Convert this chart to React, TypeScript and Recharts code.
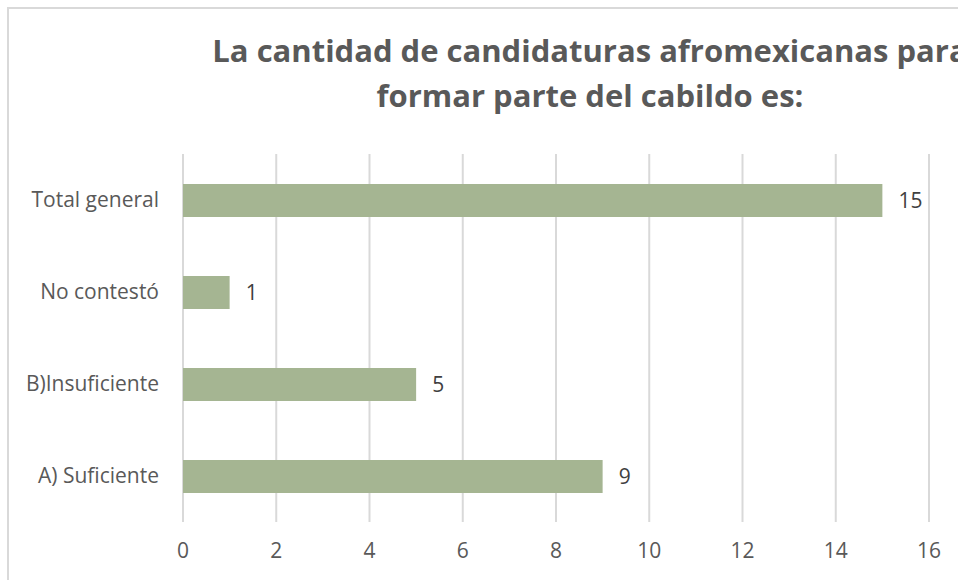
import React from "react";
import { BarChart, Bar, XAxis, YAxis, CartesianGrid, LabelList } from "recharts";

const categories = ["Total general", "No contestó", "B)Insuficiente", "A) Suficiente"];
const values = [15, 1, 5, 9];
const xTicks = [0, 2, 4, 6, 8, 10, 12, 14, 16];
const titleLines = ["La cantidad de candidaturas afromexicanas para", "formar parte del cabildo es:"];

const data = categories.map((c, i) => ({ name: c, value: values[i] }));

const FONT = "'Open Sans', Lato, sans-serif";
const TEXT = "#595959";

export default function App() {
  return (
    <div
      style={{
        position: "absolute",
        left: 7,
        top: 7,
        width: 951,
        height: 573,
        overflow: "hidden",
        borderTop: "2px solid #d9d9d9",
        borderLeft: "2px solid #d9d9d9",
        boxSizing: "border-box",
        background: "#fff",
        fontFamily: FONT,
      }}
    >
      <div
        style={{
          position: "absolute",
          left: 0,
          width: 1162,
          top: 19,
          textAlign: "center",
          fontFamily: FONT,
          fontWeight: 700,
          fontSize: 31,
          lineHeight: "45px",
          color: TEXT,
          whiteSpace: "nowrap",
        }}
      >
        {titleLines.map((l) => (
          <div key={l}>{l}</div>
        ))}
      </div>
      <div style={{ position: "absolute", left: 0, top: 0 }}>
        <BarChart
          width={948}
          height={570}
          data={data}
          layout="vertical"
          margin={{ top: 145, right: 28, bottom: 0, left: 0 }}
          barSize={33}
        >
          <CartesianGrid horizontal={false} vertical={true} stroke="#d9d9d9" strokeWidth={2} />
          <XAxis
            type="number"
            domain={[0, 16]}
            ticks={xTicks}
            axisLine={false}
            tickLine={false}
            tickMargin={15}
            height={57}
            tick={{ fill: TEXT, fontSize: 21, fontFamily: FONT }}
            interval={0}
          />
          <YAxis
            type="category"
            dataKey="name"
            width={174}
            axisLine={false}
            tickLine={false}
            tickMargin={18}
            tick={{ fill: TEXT, fontSize: 21, fontFamily: FONT }}
            interval={0}
          />
          <Bar dataKey="value" fill="#a5b592" isAnimationActive={false}>
            <LabelList
              dataKey="value"
              position="right"
              offset={16}
              style={{ fill: "#404040", fontSize: 21, fontFamily: FONT }}
            />
          </Bar>
        </BarChart>
      </div>
    </div>
  );
}
